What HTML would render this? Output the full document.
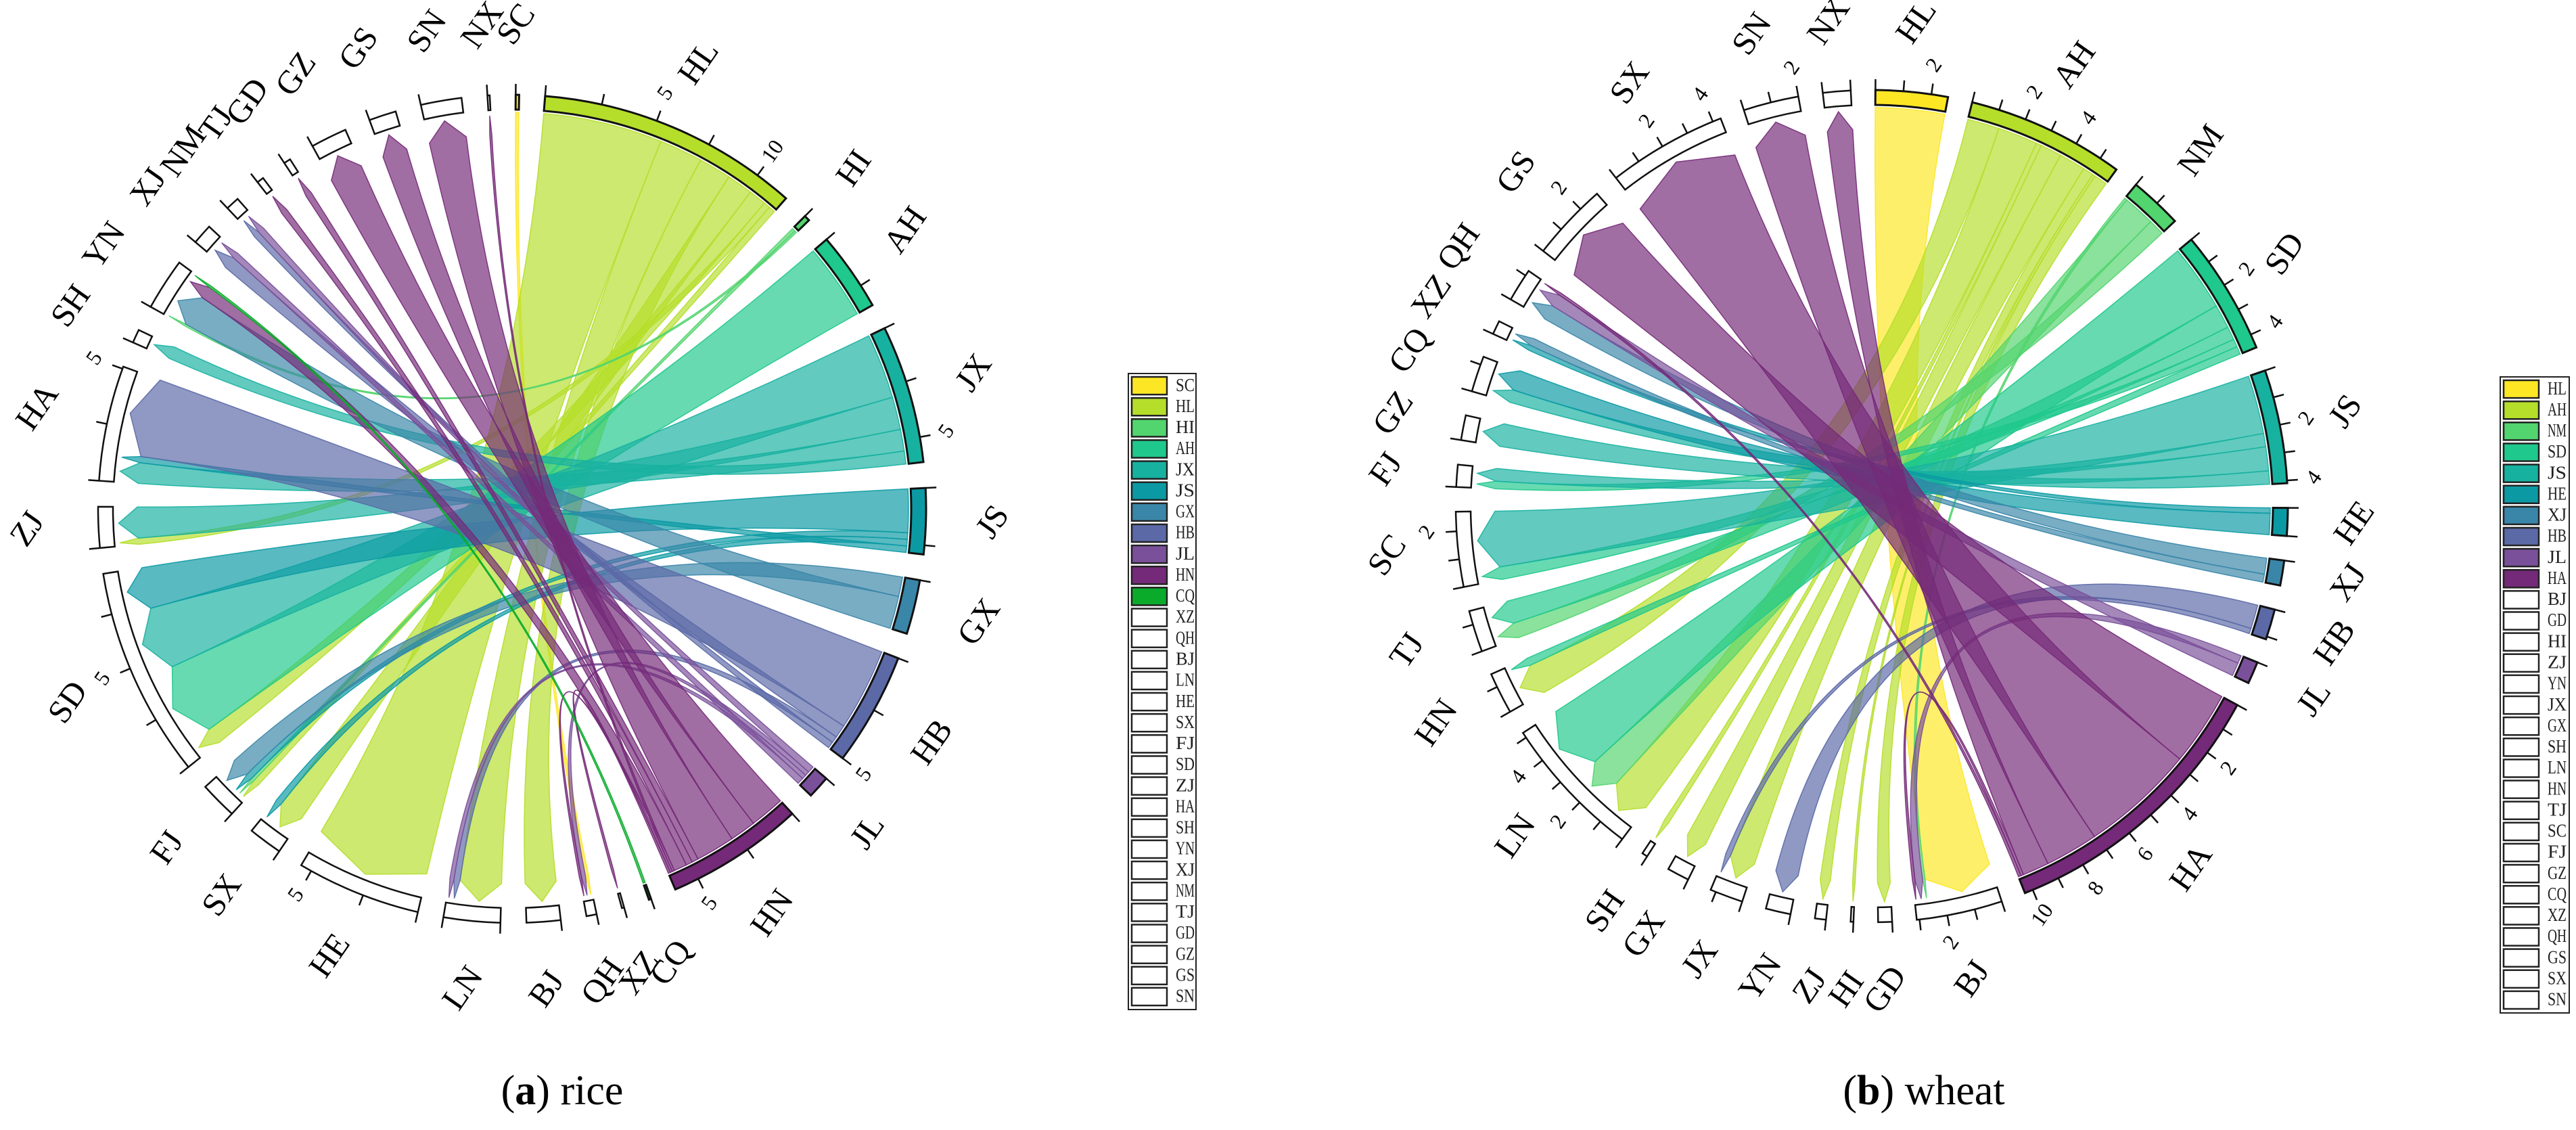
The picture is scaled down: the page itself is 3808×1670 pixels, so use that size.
<!DOCTYPE html>
<html><head><meta charset="utf-8">
<style>
html,body{margin:0;padding:0;background:#fff;}
svg{display:block;font-family:"Liberation Serif",serif;}
</style></head>
<body>
<svg id="chart" width="3808" height="1670" viewBox="0 0 3808 1670" xmlns="http://www.w3.org/2000/svg">
<g id="riceG"></g>
<g id="wheatG"></g>
<g id="legA"></g>
<g id="legB"></g>
<text x="831" y="1632" font-size="62" text-anchor="middle">(<tspan font-weight="bold">a</tspan>) rice</text>
<text x="2844" y="1632" font-size="62" text-anchor="middle">(<tspan font-weight="bold">b</tspan>) wheat</text>
</svg>
<script>
// ---- rice data ----
const riceOrder = ["SC","HL","HI","AH","JX","JS","GX","HB","JL","HN","CQ","XZ","QH","BJ","LN","HE","SX","FJ","SD","ZJ","HA","SH","YN","XJ","NM","TJ","GD","GZ","GS","SN","NX"];
const riceLegend = ["SC","HL","HI","AH","JX","JS","GX","HB","JL","HN","CQ","XZ","QH","BJ","LN","HE","SX","FJ","SD","ZJ","HA","SH","YN","XJ","NM","TJ","GD","GZ","GS","SN"];
const riceSources = ["SC","HL","HI","AH","JX","JS","GX","HB","JL","HN","CQ"];
const riceFrom = ["SC","HL","HL","HL","HL","HL","HL","HL","HI","HI","AH","JX","JX","JX","JX","JS","JS","JS","JS","GX","GX","HB","HB","HB","HB","JL","JL","JL","JL","HN","HN","HN","HN","HN","HN","HN","HN","HN","CQ"];
const riceTo   = ["QH","HE","LN","BJ","SX","SD","ZJ","FJ","FJ","YN","SD","SD","ZJ","HA","SH","SD","FJ","SX","HA","FJ","YN","HA","XJ","LN","NM","NM","QH","LN","XJ","GZ","GS","SN","GD","TJ","YN","NX","QH","XZ","YN"];
const riceVal  = [0.15,5.5,2.0,1.5,1.2,0.8,0.3,0.3,0.15,0.1,3.5,3.0,1.5,1.0,0.6,2.0,0.3,0.3,0.3,0.9,1.5,3.8,0.6,0.3,0.3,0.3,0.2,0.2,0.3,1.6,1.2,1.8,0.3,0.3,0.6,0.1,0.1,0.1,0.1];
// ---- wheat data ----
const wheatOrder = ["HL","AH","NM","SD","JS","HE","XJ","HB","JL","HA","BJ","GD","HI","ZJ","YN","JX","GX","SH","LN","HN","TJ","SC","FJ","GZ","CQ","XZ","QH","GS","SX","SN","NX"];
const wheatLegend = ["HL","AH","NM","SD","JS","HE","XJ","HB","JL","HA","BJ","GD","HI","ZJ","YN","JX","GX","SH","LN","HN","TJ","SC","FJ","GZ","CQ","XZ","QH","GS","SX","SN"];
const wheatSources = ["HL","AH","NM","SD","JS","HE","XJ","HB","JL","HA"];
const wheatFrom = ["HL","AH","AH","AH","AH","AH","AH","AH","AH","NM","NM","NM","SD","SD","SD","SD","SD","JS","JS","JS","JS","HE","HE","XJ","XJ","HB","HB","JL","JL","HA","HA","HA","HA","HA","HA"];
const wheatTo   = ["BJ","HN","LN","SH","GX","JX","ZJ","HI","GD","BJ","LN","TJ","LN","TJ","SC","FJ","HN","SC","FJ","GZ","CQ","XZ","CQ","QH","XZ","YN","JX","BJ","QH","GS","SX","SN","NX","BJ","QH"];
const wheatVal  = [2.6,1.2,1.5,0.2,0.8,1.0,0.4,0.1,0.5,0.1,1.2,0.6,2.5,0.9,0.5,0.3,0.3,2.2,0.5,0.9,0.5,0.2,0.8,0.6,0.3,0.9,0.2,0.3,0.5,2.8,4.3,2.0,1.0,0.1,0.1];

const palette = {rice:{SC:"#fde725",HL:"#b5de2b",HI:"#52d46e",AH:"#1fc88c",JX:"#17b1a0",JS:"#0b9aa3",GX:"#3a86a8",HB:"#5b69a6",JL:"#7a509a",HN:"#742a78",CQ:"#0aab2a"},
 wheat:{HL:"#fde725",AH:"#b5de2b",NM:"#52d46e",SD:"#1fc88c",JS:"#17b1a0",HE:"#0b9aa3",XJ:"#3a86a8",HB:"#5b69a6",JL:"#7a509a",HA:"#742a78"}};

const NS="http://www.w3.org/2000/svg";
function mk(tag, parent, attrs){const e=document.createElementNS(NS,tag);for(const k in attrs)e.setAttribute(k,attrs[k]);parent.appendChild(e);return e;}
function rad(d){return d*Math.PI/180;}

function drawChord(g, key, cx, cy, R, order, sources, from, to, vals, gap, tickStep, labelStep){
  const cols = palette[key];
  const tot = {}; order.forEach(n=>tot[n]=0);
  const nF=Math.min(from.length,to.length,vals.length);
  for(let i=0;i<nF;i++){ if(tot[from[i]]===undefined||tot[to[i]]===undefined) continue; tot[from[i]]+=vals[i]; tot[to[i]]+=vals[i]; }
  let total=0; order.forEach(n=>total+=tot[n]);
  const unit=(360-order.length*gap)/total;
  const P=(a,r)=>[cx+r*Math.sin(rad(a)), cy-r*Math.cos(rad(a))];
  const start={}, cur={};
  let a=0.5;
  order.forEach(n=>{start[n]=a; cur[n]=a; a+=tot[n]*unit+gap;});
  const Rs=R-26, Rt=R-58, Rtip=R-30;
  const chordG=mk("g",g,{});
  
  
  for(let i=0;i<nF;i++){
    const v=vals[i], s=from[i], t=to[i];
    if(tot[s]===undefined||tot[t]===undefined) continue;
    const a0=cur[s], a1=a0+v*unit; cur[s]=a1;
    const b0=cur[t], b1=b0+v*unit; cur[t]=b1;
    const S0=P(a0,Rs),S1=P(a1,Rs),T0=P(b0,Rt),T1=P(b1,Rt),TP=P((b0+b1)/2,Rtip);
    const d=`M${S0} A${Rs},${Rs} 0 0 1 ${S1} Q${cx},${cy} ${T0} L${TP} L${T1} Q${cx},${cy} ${S0} Z`;
    const p=mk("path",chordG,{d:d,fill:cols[s],"fill-opacity":0.68,stroke:cols[s],"stroke-width":1.5,"stroke-opacity":0.9});
    
    
  }
  order.forEach(n=>{
    const a0=start[n], a1=a0+tot[n]*unit;
    const isSrc=sources.includes(n);
    const r1=R-22, r2=R;
    const large=(a1-a0)>180?1:0;
    const d=`M${P(a0,r2)} A${r2},${r2} 0 ${large} 1 ${P(a1,r2)} L${P(a1,r1)} A${r1},${r1} 0 ${large} 0 ${P(a0,r1)} Z`;
    const arc=mk("path",g,{d:d,fill:isSrc?cols[n]:"#fff",stroke:"#111","stroke-width":isSrc?3:2.5});
    
    
    for(let v=0; v<=tot[n]+1e-6; v+=tickStep){
      const ta=a0+v*unit;
      const q0=P(ta,R), q1=P(ta,R+16);
      const tk=mk("line",g,{x1:q0[0],y1:q0[1],x2:q1[0],y2:q1[1],stroke:"#111","stroke-width":2.5});
      
      
      const vr=Math.round(v*100)/100;
      if(vr>0 && Math.abs(vr/labelStep-Math.round(vr/labelStep))<1e-6){
        const lp=P(ta,R+42);
        const tl=mk("text",g,{x:lp[0],y:lp[1],"font-size":32,"text-anchor":"middle","dominant-baseline":"middle",transform:`rotate(-55 ${lp[0]} ${lp[1]})`});
        tl.textContent=String(vr);
        
        
      }
    }
    const lp=P((a0+a1)/2,R+102);
    const lb=mk("text",g,{x:lp[0],y:lp[1],"font-size":49,"text-anchor":"middle","dominant-baseline":"middle",transform:`rotate(-55 ${lp[0]} ${lp[1]})`});
    lb.textContent=n;
    
    
  });
}

function drawLegend(g, key, names, x, y, w, h){
  const cols=palette[key];
  const fr=mk("rect",g,{x:x,y:y,width:w,height:h,fill:"#fff",stroke:"#222","stroke-width":2});
  
  
  const rh=(h-6)/names.length;
  names.forEach((n,i)=>{
    const yy=y+3+i*rh;
    const sw=mk("rect",g,{x:x+5,y:yy+2,width:52,height:rh-5,fill:cols[n]||"#fff",stroke:"#222","stroke-width":2.5});
    
    
    const t=mk("text",g,{x:x+70,y:yy+rh/2+1,"font-size":27,"dominant-baseline":"middle",fill:"#222",textLength:28,lengthAdjust:"spacingAndGlyphs"});
    t.textContent=n;
    
    
  });
}

drawChord(document.getElementById("riceG"),"rice",757,752,612,riceOrder,riceSources,riceFrom,riceTo,riceVal,3.6,2.5,5);
drawChord(document.getElementById("wheatG"),"wheat",2767,748,615,wheatOrder,wheatSources,wheatFrom,wheatTo,wheatVal,3.4,1,2);
drawLegend(document.getElementById("legA"),"rice",riceLegend,1668,552,100,940);
drawLegend(document.getElementById("legB"),"wheat",wheatLegend,3696,557,102,940);
</script>
</body></html>
